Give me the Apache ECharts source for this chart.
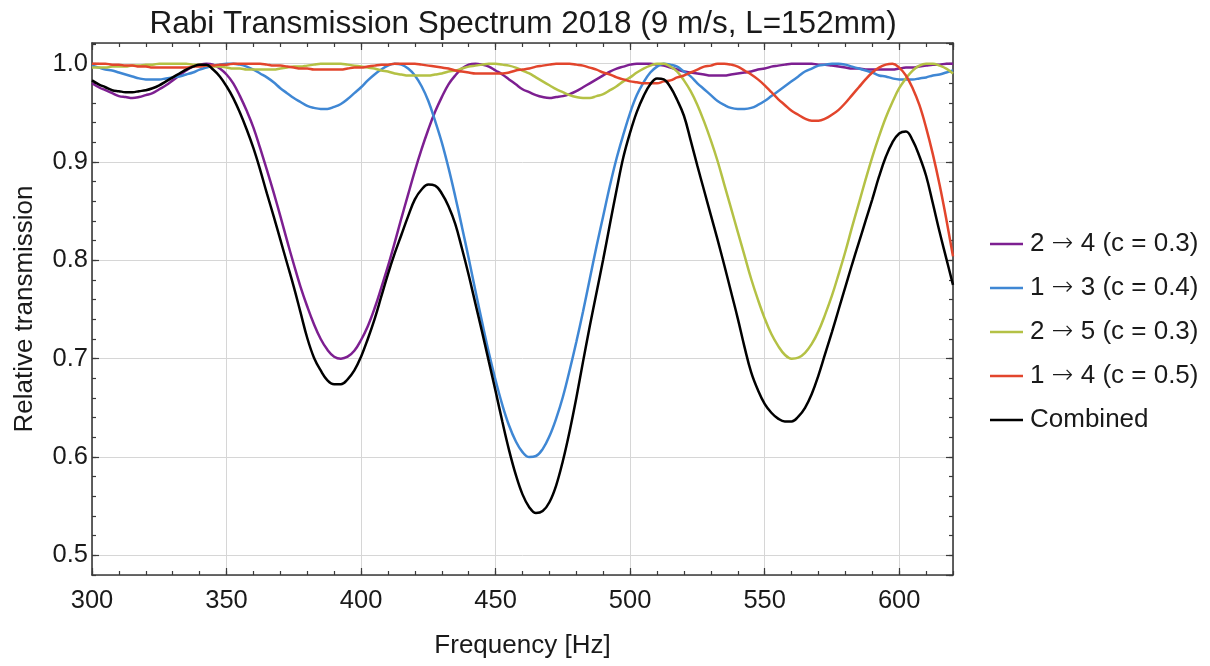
<!DOCTYPE html>
<html>
<head>
<meta charset="utf-8">
<script src="https://cdn.jsdelivr.net/npm/echarts@6/dist/echarts.min.js"></script>
<style>
html,body{margin:0;padding:0;background:#ffffff;}
#chart{width:1210px;height:666px;}
</style>
</head>
<body>
<div id="chart"></div>
<script>
// ---------- data (every 2.5 Hz) ----------
const freq = [
  300,302.5,305,307.5,310,312.5,315,317.5,320,322.5,
  325,327.5,330,332.5,335,337.5,340,342.5,345,347.5,
  350,352.5,355,357.5,360,362.5,365,367.5,370,372.5,
  375,377.5,380,382.5,385,387.5,390,392.5,395,397.5,
  400,402.5,405,407.5,410,412.5,415,417.5,420,422.5,
  425,427.5,430,432.5,435,437.5,440,442.5,445,447.5,
  450,452.5,455,457.5,460,462.5,465,467.5,470,472.5,
  475,477.5,480,482.5,485,487.5,490,492.5,495,497.5,
  500,502.5,505,507.5,510,512.5,515,517.5,520,522.5,
  525,527.5,530,532.5,535,537.5,540,542.5,545,547.5,
  550,552.5,555,557.5,560,562.5,565,567.5,570,572.5,
  575,577.5,580,582.5,585,587.5,590,592.5,595,597.5,
  600,602.5,605,607.5,610,612.5,615,617.5,620];

const t24 = [
  .980,.976,.973,.970,.967,.966,.965,.966,.968,.970,
  .974,.978,.983,.988,.993,.997,.999,1.000,.999,.995,
  .989,.980,.967,.952,.935,.914,.892,.869,.845,.820,
  .796,.773,.753,.735,.720,.709,.702,.700,.702,.708,
  .719,.733,.751,.772,.794,.818,.843,.867,.891,.913,
  .933,.951,.966,.979,.988,.995,.999,1.000,.999,.997,
  .993,.989,.984,.979,.974,.971,.968,.966,.965,.966,
  .967,.969,.972,.976,.980,.984,.988,.992,.995,.997,
  .999,1.000,1.000,1.000,.999,.998,.996,.994,.992,.991,
  .990,.989,.988,.988,.988,.989,.990,.991,.992,.994,
  .995,.997,.998,.999,1.000,1.000,1.000,1.000,.999,.999,
  .998,.997,.996,.995,.995,.994,.994,.994,.994,.994,
  .995,.996,.996,.997,.998,.999,.999,1.000,1.000];

const t13 = [
  .998,.996,.994,.993,.991,.989,.987,.985,.984,.984,
  .984,.985,.986,.987,.989,.991,.994,.996,.998,.999,
  1.000,1.000,.999,.997,.994,.990,.986,.981,.975,.970,
  .965,.961,.957,.955,.954,.954,.956,.959,.964,.970,
  .976,.983,.989,.994,.998,1.000,.999,.995,.988,.977,
  .962,.942,.920,.894,.865,.834,.802,.769,.737,.706,
  .678,.653,.632,.616,.605,.600,.601,.608,.621,.639,
  .661,.688,.717,.748,.781,.814,.845,.876,.904,.928,
  .950,.968,.981,.991,.997,1.000,.999,.997,.992,.987,
  .980,.974,.968,.962,.958,.955,.954,.954,.955,.958,
  .962,.967,.972,.977,.982,.987,.992,.995,.998,.999,
  1.000,1.000,.999,.997,.995,.993,.991,.988,.987,.985,
  .984,.984,.984,.985,.986,.988,.989,.991,.993];

const t25 = [
  .996,.996,.996,.997,.997,.997,.998,.998,.999,.999,
  1.000,1.000,1.000,1.000,1.000,.999,.999,.998,.997,.997,
  .996,.995,.995,.994,.994,.994,.994,.994,.995,.996,
  .997,.997,.998,.999,1.000,1.000,1.000,1.000,.999,.998,
  .997,.996,.995,.993,.992,.990,.989,.988,.988,.988,
  .988,.989,.990,.992,.993,.995,.997,.998,.999,1.000,
  1.000,.999,.998,.996,.993,.990,.986,.982,.978,.974,
  .971,.968,.966,.965,.965,.967,.969,.973,.977,.982,
  .986,.991,.995,.998,1.000,1.000,.997,.992,.983,.972,
  .958,.941,.922,.901,.877,.853,.829,.805,.781,.760,
  .741,.725,.713,.704,.700,.701,.706,.715,.728,.745,
  .764,.786,.809,.834,.858,.882,.905,.926,.945,.961,
  .975,.985,.993,.998,1.000,1.000,.998,.995,.990];

const t14 = [
  1.000,1.000,1.000,.999,.999,.998,.998,.997,.997,.996,
  .996,.996,.996,.996,.996,.997,.997,.998,.998,.999,
  .999,1.000,1.000,1.000,1.000,1.000,.999,.998,.998,.997,
  .996,.995,.995,.994,.994,.994,.994,.994,.995,.996,
  .996,.997,.998,.999,.999,1.000,1.000,1.000,1.000,.999,
  .998,.997,.996,.995,.993,.992,.991,.990,.990,.990,
  .990,.990,.991,.993,.994,.995,.997,.998,.999,1.000,
  1.000,1.000,.999,.998,.996,.994,.991,.989,.986,.984,
  .982,.981,.980,.980,.980,.982,.983,.986,.988,.991,
  .994,.997,.998,1.000,1.000,.999,.997,.993,.989,.984,
  .978,.971,.964,.958,.952,.948,.944,.942,.942,.944,
  .948,.953,.960,.968,.976,.984,.991,.996,.999,1.000,
  .996,.988,.975,.958,.935,.908,.877,.842,.804];

const combined = [
  .983,.979,.976,.973,.972,.971,.971,.972,.973,.975,
  .978,.982,.986,.990,.994,.997,.999,.999,.994,.987,
  .977,.965,.950,.933,.914,.892,.868,.845,.821,.797,
  .773,.747,.721,.701,.688,.678,.674,.674,.679,.688,
  .702,.720,.740,.763,.786,.807,.826,.845,.862,.872,
  .877,.876,.868,.855,.837,.812,.785,.756,.727,.697,
  .667,.636,.607,.582,.562,.549,.543,.545,.554,.571,
  .596,.626,.660,.697,.733,.767,.801,.837,.872,.905,
  .930,.951,.967,.979,.985,.984,.976,.963,.947,.922,
  .896,.871,.846,.821,.795,.768,.741,.712,.686,.668,
  .654,.645,.639,.636,.636,.641,.650,.664,.683,.705,
  .727,.750,.773,.796,.818,.840,.862,.885,.905,.920,
  .929,.931,.922,.906,.886,.858,.829,.802,.775];

const seriesNames = ['2 \u2192 4 (c = 0.3)','1 \u2192 3 (c = 0.4)','2 \u2192 5 (c = 0.3)','1 \u2192 4 (c = 0.5)','Combined'];
const seriesValues = [t24, t13, t25, t14, combined];
const seriesColors = ['#7d1f91','#3f87d4','#b4c145','#e2452c','#000000'];
const titleText = 'Rabi Transmission Spectrum 2018 (9 m/s, L=152mm)';

// ---------- chart ----------
const FONT = '"Liberation Sans", Arial, Helvetica, sans-serif';
const TXT = '#1a1a1a';
const FRAME = '#3a3a3a';

function pairs(ys){ return freq.map((f,i)=>[f, ys[i]]); }

const xBase = {type:'value', min:300, max:620, gridIndex:0};
const yBase = {type:'value', min:0.48, max:1.021, gridIndex:0};

const chart = echarts.init(document.getElementById('chart'), null, {renderer:'canvas'});
chart.setOption({
  animation:false,
  backgroundColor:'#ffffff',
  title:{
    text:titleText, left:518, top:3, textAlign:'center',
    textStyle:{fontFamily:FONT, fontSize:31.5, fontWeight:'normal', color:TXT}
  },
  legend:{
    orient:'vertical', left:985, top:224, itemGap:14,
    icon:'rect', itemWidth:33, itemHeight:2.5,
    data:seriesNames,
    formatter: name => name.replace('\u2192', '{a|\u2192}'),
    textStyle:{fontFamily:FONT, fontSize:26, color:TXT, lineHeight:30, padding:[0,0,0,2],
      rich:{a:{fontFamily:'"DejaVu Sans", sans-serif', fontWeight:200, fontSize:26, color:TXT, lineHeight:30}}}
  },
  grid:{left:92, right:257, top:43, bottom:91, containLabel:false},
  xAxis:[
    Object.assign({}, xBase, {
      position:'bottom', interval:50,
      name:'Frequency [Hz]', nameLocation:'middle', nameGap:58,
      nameTextStyle:{fontFamily:FONT, fontSize:26, color:TXT},
      axisLine:{show:true, onZero:false, lineStyle:{color:FRAME, width:1.6}},
      axisTick:{show:true, inside:true, length:7, lineStyle:{color:FRAME, width:1.2}},
      axisLabel:{fontFamily:FONT, fontSize:25.5, color:TXT, margin:13, showMaxLabel:false,
        formatter:v => (Math.abs(v % 50) < 1e-6 ? String(v) : '')},
      splitLine:{show:true, lineStyle:{color:'#d6d6d6', width:1}}
    }),
    Object.assign({}, xBase, {
      position:'bottom', interval:10,
      axisLine:{show:false, onZero:false},
      axisTick:{show:true, inside:true, length:4, lineStyle:{color:FRAME, width:1.2}},
      axisLabel:{show:false}, splitLine:{show:false}
    }),
    Object.assign({}, xBase, {
      position:'top', interval:50,
      axisLine:{show:true, onZero:false, lineStyle:{color:FRAME, width:1.6}},
      axisTick:{show:true, inside:true, length:7, lineStyle:{color:FRAME, width:1.2}},
      axisLabel:{show:false}, splitLine:{show:false}
    }),
    Object.assign({}, xBase, {
      position:'top', interval:10,
      axisLine:{show:false, onZero:false},
      axisTick:{show:true, inside:true, length:4, lineStyle:{color:FRAME, width:1.2}},
      axisLabel:{show:false}, splitLine:{show:false}
    })
  ],
  yAxis:[
    Object.assign({}, yBase, {
      position:'left', splitNumber:5,
      name:'Relative transmission', nameLocation:'middle', nameGap:54,
      nameTextStyle:{fontFamily:FONT, fontSize:26, color:TXT},
      axisLine:{show:true, onZero:false, lineStyle:{color:FRAME, width:1.6}},
      axisTick:{show:true, inside:true, length:7, lineStyle:{color:FRAME, width:1.2}},
      axisLabel:{fontFamily:FONT, fontSize:25.5, color:TXT, margin:4, showMinLabel:false, showMaxLabel:false,
        formatter:v => (Math.abs(v*10 - Math.round(v*10)) < 1e-6 ? v.toFixed(1) : '')},
      splitLine:{show:true, lineStyle:{color:'#d6d6d6', width:1}}
    }),
    Object.assign({}, yBase, {
      position:'left', interval:0.02,
      axisLine:{show:false, onZero:false},
      axisTick:{show:true, inside:true, length:4, lineStyle:{color:FRAME, width:1.2}},
      axisLabel:{show:false}, splitLine:{show:false}
    }),
    Object.assign({}, yBase, {
      position:'right', splitNumber:5,
      axisLine:{show:true, onZero:false, lineStyle:{color:FRAME, width:1.6}},
      axisTick:{show:true, inside:true, length:7, lineStyle:{color:FRAME, width:1.2}},
      axisLabel:{show:false}, splitLine:{show:false}
    }),
    Object.assign({}, yBase, {
      position:'right', interval:0.02,
      axisLine:{show:false, onZero:false},
      axisTick:{show:true, inside:true, length:4, lineStyle:{color:FRAME, width:1.2}},
      axisLabel:{show:false}, splitLine:{show:false}
    })
  ],
  series: seriesNames.map((name, i) => ({
    name:name, type:'line', xAxisIndex:0, yAxisIndex:0,
    data:pairs(seriesValues[i]),
    smooth:0.4, symbol:'none', showSymbol:false,
    clip:true,
    color:seriesColors[i],
    lineStyle:{color:seriesColors[i], width:2.5},
    itemStyle:{color:seriesColors[i]},
    z:2+i
  }))
});
</script>
</body>
</html>
